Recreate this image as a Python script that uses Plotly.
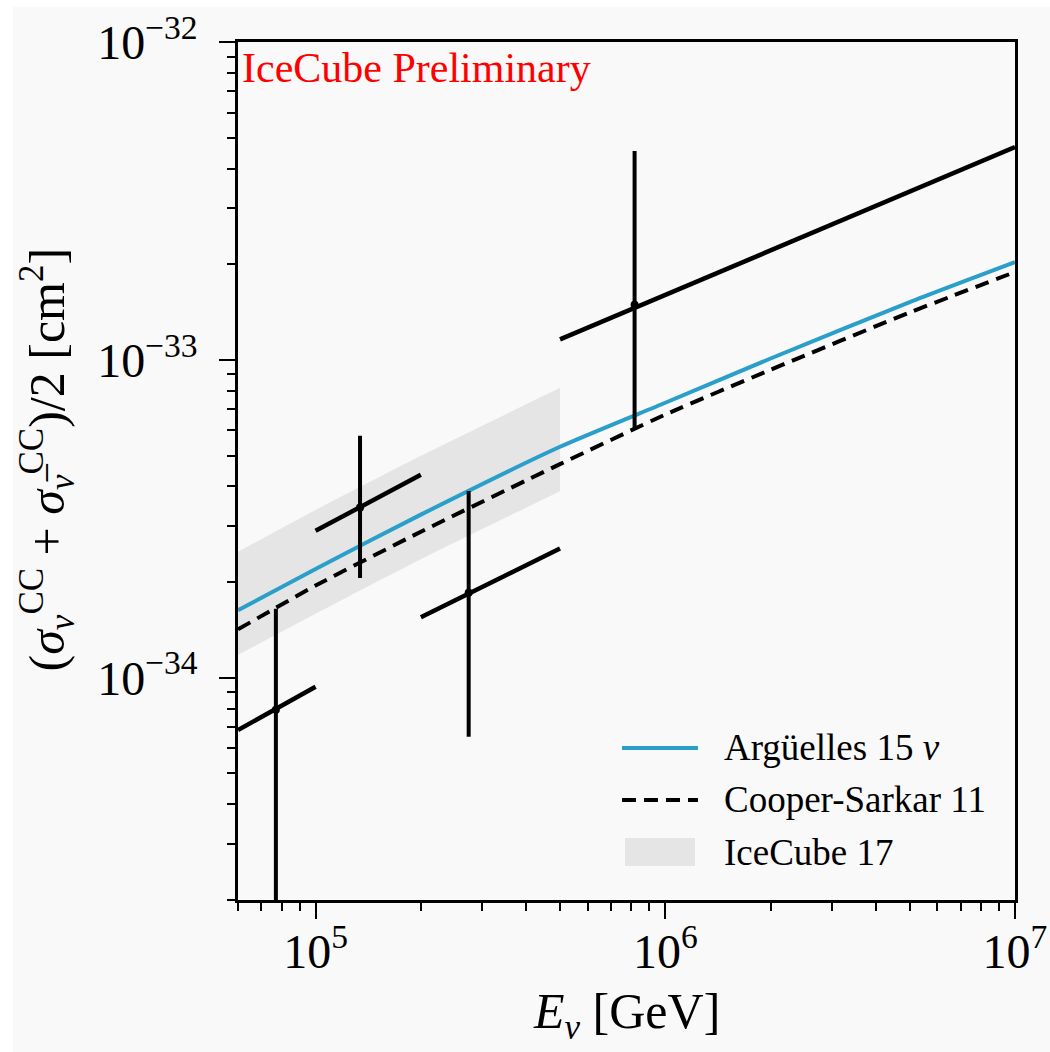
import plotly.graph_objects as go

# ---- model curves: (sigma_nu^CC + sigma_nubar^CC)/2 in cm^2 ----
energy_model = [6e4, 1e5, 2e5, 5e5, 1e6, 2e6, 5e6, 1e7]
arguelles15 = [1.63e-34, 2.20e-34, 3.26e-34, 5.33e-34, 7.33e-34, 1.01e-33, 1.52e-33, 2.03e-33]
cooper_sarkar11 = [1.42e-34, 1.95e-34, 2.88e-34, 4.70e-34, 6.73e-34, 9.31e-34, 1.41e-33, 1.89e-33]

# ---- IceCube 17 band ----
energy_band = [6e4, 1e5, 2e5, 5e5]
band_upper = [2.49e-34, 3.37e-34, 4.99e-34, 8.17e-34]
band_lower = [1.18e-34, 1.59e-34, 2.36e-34, 3.86e-34]

# ---- binned measurement ----
bin_lo = [6e4, 1e5, 2e5, 5e5]
bin_hi = [1e5, 2e5, 5e5, 1e7]
seg_at_lo = [6.85e-35, 2.90e-34, 1.55e-34, 1.16e-33]
seg_at_hi = [9.37e-35, 4.35e-34, 2.55e-34, 4.67e-33]
point_energy = [7.7e4, 1.34e5, 2.74e5, 8.17e5]
point_xsec = [7.93e-35, 3.43e-34, 1.85e-34, 1.49e-33]
err_upper = [1.65e-34, 5.77e-34, 3.87e-34, 4.54e-33]
err_lower = [1e-36, 2.06e-34, 6.52e-35, 6.11e-34]

x_ticks = [1e5, 1e6, 1e7]
x_ticktext = ["10<sup>5</sup>", "10<sup>6</sup>", "10<sup>7</sup>"]
y_ticks = [1e-34, 1e-33, 1e-32]
y_ticktext = ["10<sup>\u221234</sup>", "10<sup>\u221233</sup>", "10<sup>\u221232</sup>"]

FONT = "Liberation Serif"
BG = "#f9f9f9"
BLUE = "#2a9fc9"

fig = go.Figure()

# band
fig.add_trace(go.Scatter(x=energy_band, y=band_upper, mode="lines",
                         line=dict(width=0, shape="spline", smoothing=0.6),
                         hoverinfo="skip", showlegend=False))
fig.add_trace(go.Scatter(x=energy_band, y=band_lower, mode="lines",
                         line=dict(width=0, shape="spline", smoothing=0.6),
                         fill="tonexty", fillcolor="rgb(229,229,229)", showlegend=False))

fig.add_trace(go.Scatter(x=energy_model, y=arguelles15, mode="lines",
                         line=dict(color=BLUE, width=4, shape="spline", smoothing=0.6),
                         showlegend=False))
fig.add_trace(go.Scatter(x=energy_model, y=cooper_sarkar11, mode="lines",
                         line=dict(color="black", width=4, dash="14px,8px",
                                   shape="spline", smoothing=0.6),
                         showlegend=False))

# bin segments
seg_x, seg_y = [], []
for lo, hi, ylo, yhi in zip(bin_lo, bin_hi, seg_at_lo, seg_at_hi):
    seg_x += [lo, hi, None]
    seg_y += [ylo, yhi, None]
fig.add_trace(go.Scatter(x=seg_x, y=seg_y, mode="lines",
                         line=dict(color="black", width=4.5), showlegend=False))

# points with vertical errors
fig.add_trace(go.Scatter(
    x=point_energy, y=point_xsec, mode="markers",
    marker=dict(color="black", size=8),
    error_y=dict(type="data", symmetric=False,
                 array=[u - c for u, c in zip(err_upper, point_xsec)],
                 arrayminus=[c - l for l, c in zip(err_lower, point_xsec)],
                 color="black", thickness=4, width=0),
    showlegend=False))

axis_common = dict(
    type="log", showgrid=False, zeroline=False, automargin=False,
    showline=True, linecolor="black", linewidth=2.5, mirror=True,
    ticks="outside", ticklen=16, tickwidth=2, tickcolor="black",
    tickfont=dict(family=FONT, size=48, color="black"),
    minor=dict(ticks="outside", ticklen=8, tickwidth=1.5, tickcolor="black",
               dtick="D1", showgrid=False),
)

fig.update_xaxes(range=[4.77815, 7], tickvals=x_ticks, ticktext=x_ticktext,
                 ticklabelstandoff=-8, **axis_common)
fig.update_yaxes(range=[-34.699, -32], tickvals=y_ticks, ticktext=y_ticktext,
                 ticklabelstandoff=12, **axis_common)

# legend drawn by hand
shapes = [
    dict(type="rect", xref="paper", yref="paper", x0=-0.4, x1=-0.2896, y0=-0.3, y1=1.1,
         fillcolor="white", line=dict(width=0), layer="below"),
    dict(type="rect", xref="paper", yref="paper", x0=-0.4, x1=1.1, y0=1.0408, y1=1.1,
         fillcolor="white", line=dict(width=0), layer="below"),
    dict(type="line", xref="paper", yref="paper", x0=0.4942, x1=0.5920, y0=0.1772, y1=0.1772,
         line=dict(color=BLUE, width=4)),
    dict(type="line", xref="paper", yref="paper", x0=0.4942, x1=0.5920, y0=0.1166, y1=0.1166,
         line=dict(color="black", width=4, dash="14px,8px")),
    dict(type="rect", xref="paper", yref="paper", x0=0.4981, x1=0.5882, y0=0.0396, y1=0.0723,
         fillcolor="rgb(229,229,229)", line=dict(width=0)),
]

legend_text = ["Arg\u00fcelles 15 <i>\u03bd</i>", "Cooper-Sarkar 11", "IceCube 17"]
legend_y = [0.1772, 0.1166, 0.0559]

annotations = [
    dict(text=t, xref="paper", yref="paper", x=0.6229, y=yy, xanchor="left",
         yanchor="middle", showarrow=False,
         font=dict(family=FONT, size=37, color="black"))
    for t, yy in zip(legend_text, legend_y)
]
annotations += [
    dict(text="IceCube Preliminary", xref="paper", yref="paper", x=0.002, y=0.97,
         xanchor="left", yanchor="middle", showarrow=False,
         font=dict(family=FONT, size=42, color="red")),
    dict(text="<i>E</i><sub><i>\u03bd</i></sub> [GeV]", xref="paper", yref="paper",
         x=0.5, y=-0.134, xanchor="center", yanchor="middle", showarrow=False,
         font=dict(family=FONT, size=50, color="black")),
    dict(text="(<i>\u03c3</i><sub><i>\u03bd</i></sub><sup>CC</sup> + "
              "<i>\u03c3</i><sub><i>\u03bd\u0305</i></sub><sup>CC</sup>)/2 [cm<sup>2</sup>]",
         xref="paper", yref="paper", x=-0.245, y=0.513, xanchor="center",
         yanchor="middle", textangle=-90, showarrow=False,
         font=dict(family=FONT, size=50, color="black")),
]

fig.update_layout(
    width=1050, height=1052,
    margin=dict(l=238, r=35, t=42, b=152),
    paper_bgcolor=BG, plot_bgcolor=BG,
    shapes=shapes, annotations=annotations,
    showlegend=False,
)

fig.write_html("out.html")
